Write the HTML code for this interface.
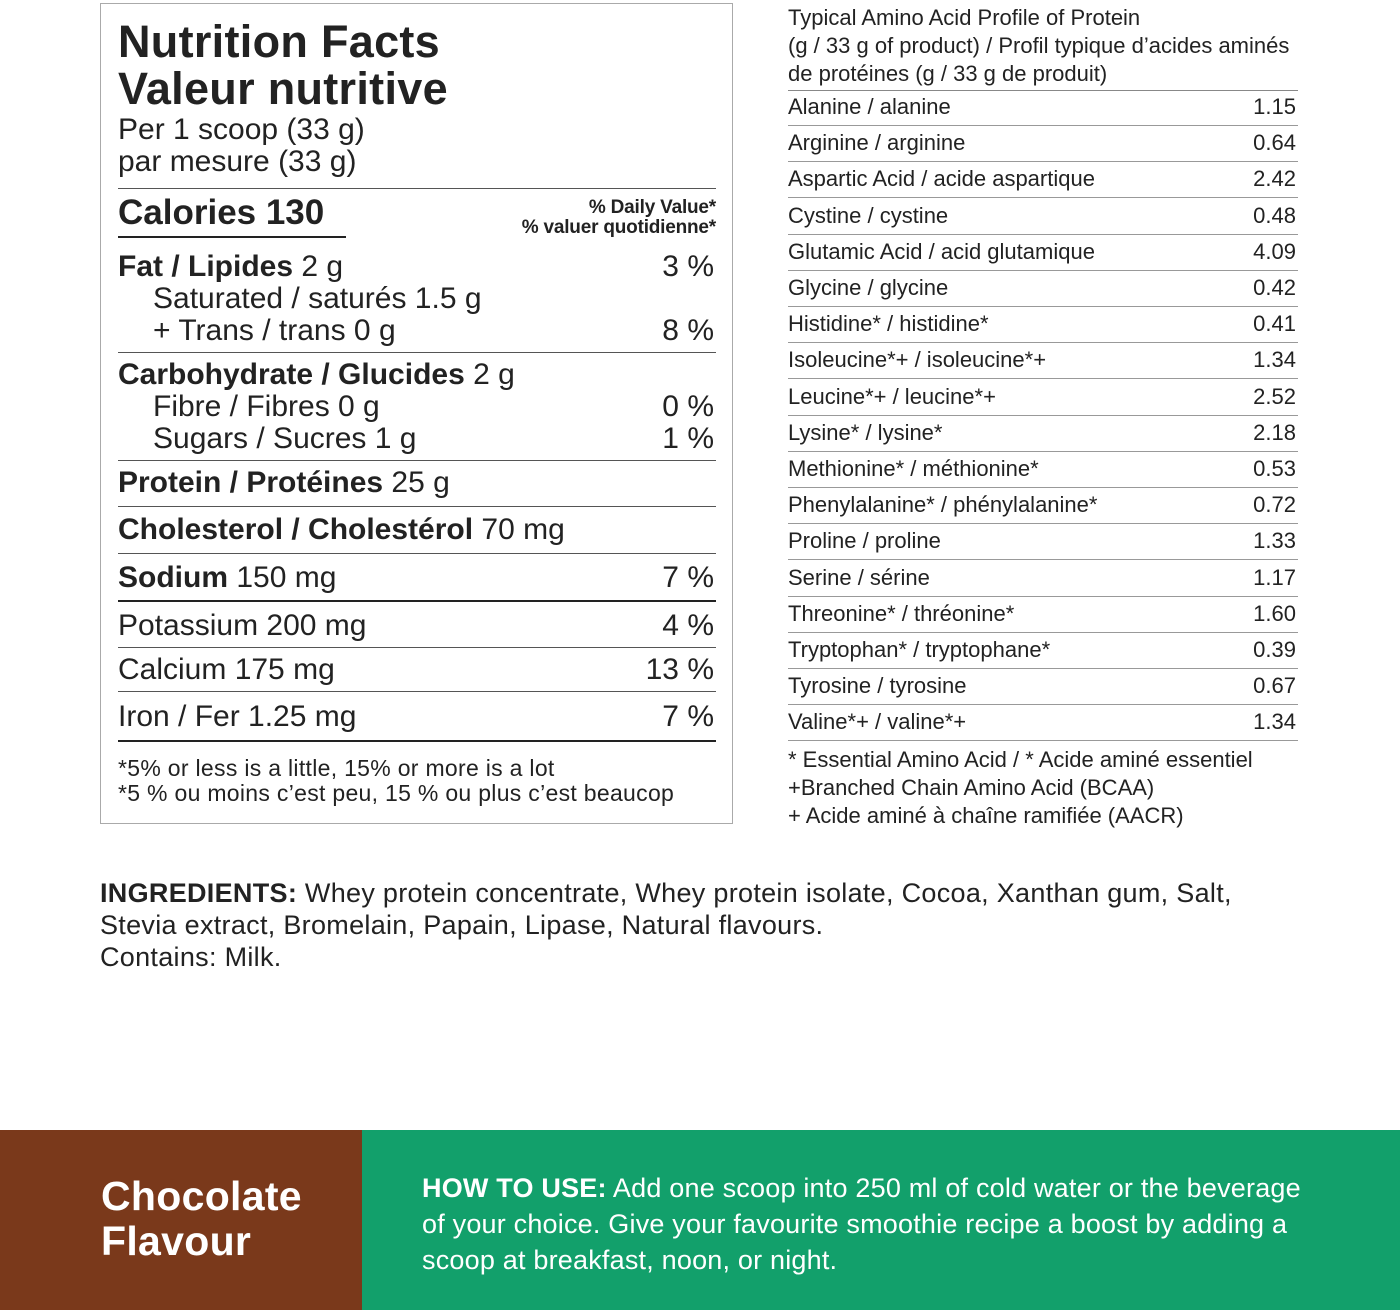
<!DOCTYPE html>
<html><head><meta charset="utf-8"><style>
body{margin:0;width:1400px;height:1310px;background:#fff;position:relative;overflow:hidden;font-family:"Liberation Sans",sans-serif;color:#222}
.a{position:absolute;white-space:nowrap;line-height:1}
.r{text-align:right}
.l{position:absolute;background:#555;height:1px}
.n{font-size:30px;letter-spacing:0px}
.p{font-size:30px;right:686px;text-align:right}
.m{font-size:22px;letter-spacing:0px}
b{font-weight:bold}
</style></head><body>
<div style="position:absolute;left:100px;top:3px;width:631px;height:819px;border:1px solid #aaa"></div>
<div class="a" style="left:118px;top:19px;font-size:45px;font-weight:bold;letter-spacing:0.3px">Nutrition Facts</div>
<div class="a" style="left:118px;top:66px;font-size:45px;font-weight:bold;letter-spacing:0.3px">Valeur nutritive</div>
<div class="a n" style="left:118px;top:115px">Per 1 scoop (33 g)</div>
<div class="a n" style="left:118px;top:147px">par mesure (33 g)</div>
<div class="l" style="left:118px;top:188px;width:598px"></div>
<div class="a" style="left:118px;top:195px;font-size:35px;font-weight:bold;letter-spacing:0px">Calories 130</div>
<div class="a r" style="right:684px;top:198px;font-size:19px;font-weight:bold;letter-spacing:-0.2px;line-height:20px">% Daily Value*<br>% valuer quotidienne*</div>
<div class="l" style="left:118px;top:236px;width:228px;height:2px;background:#222"></div>
<div class="a n" style="left:118px;top:252px"><b>Fat / Lipides</b> 2 g</div><div class="a p" style="top:252px">3 %</div>
<div class="a n" style="left:153px;top:284px">Saturated / saturés 1.5 g</div>
<div class="a n" style="left:153px;top:316px">+ Trans / trans 0 g</div><div class="a p" style="top:316px">8 %</div>
<div class="l" style="left:118px;top:352px;width:598px"></div>
<div class="a n" style="left:118px;top:360px"><b>Carbohydrate / Glucides</b> 2 g</div>
<div class="a n" style="left:153px;top:392px">Fibre / Fibres 0 g</div><div class="a p" style="top:392px">0 %</div>
<div class="a n" style="left:153px;top:424px">Sugars / Sucres 1 g</div><div class="a p" style="top:424px">1 %</div>
<div class="l" style="left:118px;top:460px;width:598px"></div>
<div class="a n" style="left:118px;top:468px"><b>Protein / Protéines</b> 25 g</div>
<div class="l" style="left:118px;top:506px;width:598px"></div>
<div class="a n" style="left:118px;top:515px"><b>Cholesterol / Cholestérol</b> 70 mg</div>
<div class="l" style="left:118px;top:553px;width:598px"></div>
<div class="a n" style="left:118px;top:563px"><b>Sodium</b> 150 mg</div><div class="a p" style="top:563px">7 %</div>
<div class="l" style="left:118px;top:600px;width:598px;height:2px;background:#222"></div>
<div class="a n" style="left:118px;top:611px">Potassium 200 mg</div><div class="a p" style="top:611px">4 %</div>
<div class="l" style="left:118px;top:647px;width:598px"></div>
<div class="a n" style="left:118px;top:655px">Calcium 175 mg</div><div class="a p" style="top:655px">13 %</div>
<div class="l" style="left:118px;top:691px;width:598px"></div>
<div class="a n" style="left:118px;top:702px">Iron / Fer 1.25 mg</div><div class="a p" style="top:702px">7 %</div>
<div class="l" style="left:118px;top:740px;width:598px;height:2px;background:#222"></div>
<div class="a" style="left:118px;top:756px;font-size:23px;letter-spacing:0.3px;line-height:25px">*5% or less is a little, 15% or more is a lot<br>*5 % ou moins c’est peu, 15 % ou plus c’est beaucop</div>

<div class="a m" style="left:788px;top:4px;line-height:28px">Typical Amino Acid Profile of Protein<br>(g / 33 g of product) / Profil typique d’acides aminés<br>de protéines (g / 33 g de produit)</div>
<div class="l" style="left:788px;top:90px;width:510px;background:#888"></div>
<div id="aa"></div>
<div class="a m" style="left:788px;top:746px;line-height:28px">* Essential Amino Acid / * Acide aminé essentiel<br>+Branched Chain Amino Acid (BCAA)<br>+ Acide aminé à chaîne ramifiée (AACR)</div>

<div class="a" style="left:100px;top:877px;font-size:27px;line-height:32px;letter-spacing:0.3px"><b>INGREDIENTS:</b> Whey protein concentrate, Whey protein isolate, Cocoa, Xanthan gum, Salt,<br>Stevia extract, Bromelain, Papain, Lipase, Natural flavours.<br>Contains: Milk.</div>

<div style="position:absolute;left:0;top:1130px;width:362px;height:180px;background:#7a391b"></div>
<div style="position:absolute;left:362px;top:1130px;width:1038px;height:180px;background:#12a06b"></div>
<div class="a" style="left:101px;top:1174px;color:#fff;font-size:41px;font-weight:bold;line-height:45px;letter-spacing:0.3px">Chocolate<br>Flavour</div>
<div class="a" style="left:422px;top:1170px;color:#fff;font-size:27px;line-height:36px;letter-spacing:0.2px"><b>HOW TO USE:</b> Add one scoop into 250 ml of cold water or the beverage<br>of your choice. Give your favourite smoothie recipe a boost by adding a<br>scoop at breakfast, noon, or night.</div>
<script>
var d=[["Alanine / alanine","1.15"],["Arginine / arginine","0.64"],["Aspartic Acid / acide aspartique","2.42"],["Cystine / cystine","0.48"],["Glutamic Acid / acid glutamique","4.09"],["Glycine / glycine","0.42"],["Histidine* / histidine*","0.41"],["Isoleucine*+ / isoleucine*+","1.34"],["Leucine*+ / leucine*+","2.52"],["Lysine* / lysine*","2.18"],["Methionine* / méthionine*","0.53"],["Phenylalanine* / phénylalanine*","0.72"],["Proline / proline","1.33"],["Serine / sérine","1.17"],["Threonine* / thréonine*","1.60"],["Tryptophan* / tryptophane*","0.39"],["Tyrosine / tyrosine","0.67"],["Valine*+ / valine*+","1.34"]];
var h="";for(var i=0;i<d.length;i++){var c=107+i*36.2;h+='<div class="a m" style="left:788px;top:'+(c-11)+'px">'+d[i][0]+'</div><div class="a m r" style="right:104px;top:'+(c-11)+'px">'+d[i][1]+'</div><div class="l" style="left:788px;top:'+Math.round(c+18)+'px;width:510px;background:#999"></div>';}
document.getElementById("aa").outerHTML=h;
</script>
</body></html>
